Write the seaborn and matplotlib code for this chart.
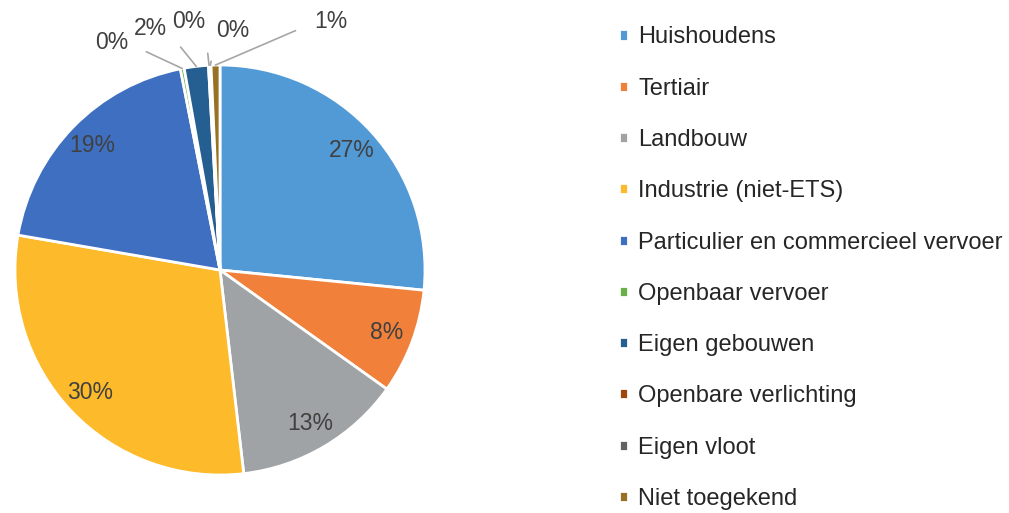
import numpy as np
import matplotlib
matplotlib.use("Agg")
import matplotlib.pyplot as plt
import seaborn as sns

# sectors and their share (%)
sectors = ["Huishoudens", "Tertiair", "Landbouw", "Industrie (niet-ETS)",
           "Particulier en commercieel vervoer", "Openbaar vervoer",
           "Eigen gebouwen", "Openbare verlichting", "Eigen vloot",
           "Niet toegekend"]
shares = [26.6, 8.3, 13.3, 29.6, 19.2, 0.3, 1.9, 0.1, 0.1, 0.7]
colors = ["#519AD6", "#F0803A", "#A0A3A5", "#FDBB2B", "#3F6FC0",
          "#6BB047", "#255E91", "#9E480E", "#636363", "#977225"]

# where the labels of the tiny slices go (in pie radius units)
small_label_pos = {5: (-0.53, 1.11), 6: (-0.34, 1.18), 7: (-0.15, 1.21),
                   8: (0.06, 1.17), 9: (0.54, 1.21)}

sns.set_theme(style="white")
plt.rcParams['font.family'] = ['Liberation Sans', 'DejaVu Sans']

fig = plt.figure(figsize=(10.09, 5.13), dpi=100)
ax = fig.add_axes([15 / 1009, 38 / 513, 410 / 1009, 410 / 513])

wedges, _ = ax.pie(shares, colors=colors, startangle=90, counterclock=False,
                   radius=1.0, wedgeprops=dict(edgecolor="white", linewidth=2))
ax.set_xlim(-1, 1)
ax.set_ylim(-1, 1)
ax.set_aspect("equal")
ax.axis("off")

label_color = "#404040"
total = sum(shares)
for i, w in enumerate(wedges):
    mid = np.deg2rad((w.theta1 + w.theta2) / 2)
    txt = f"{round(shares[i] / total * 100):.0f}%"
    if i in small_label_pos:
        tx, ty = small_label_pos[i]
        px, py = np.cos(mid), np.sin(mid)
        side = 0 if tx < px else 180
        ax.annotate(txt, xy=(px, py), xytext=(tx, ty), fontsize=16.5,
                    color=label_color, ha="center", va="center",
                    annotation_clip=False,
                    arrowprops=dict(arrowstyle="-", color="#a6a6a6", lw=1.2,
                                    shrinkA=12, shrinkB=0,
                                    connectionstyle=f"arc,angleA={side},armA=15,angleB=0,armB=0,rad=0"))
    else:
        r = 0.87
        ax.text(r * np.cos(mid), r * np.sin(mid), txt, fontsize=16.5,
                color=label_color, ha="center", va="center")

leg = fig.legend(wedges, sectors, loc="upper left", bbox_to_anchor=(610 / 1009, 1 - 17 / 513),
                 frameon=False, fontsize=17, handlelength=0.35, handleheight=0.35,
                 handletextpad=0.45, labelspacing=1.24, borderaxespad=0)
for t in leg.get_texts():
    t.set_color("#262626")

fig.savefig("out.png", dpi=100)
